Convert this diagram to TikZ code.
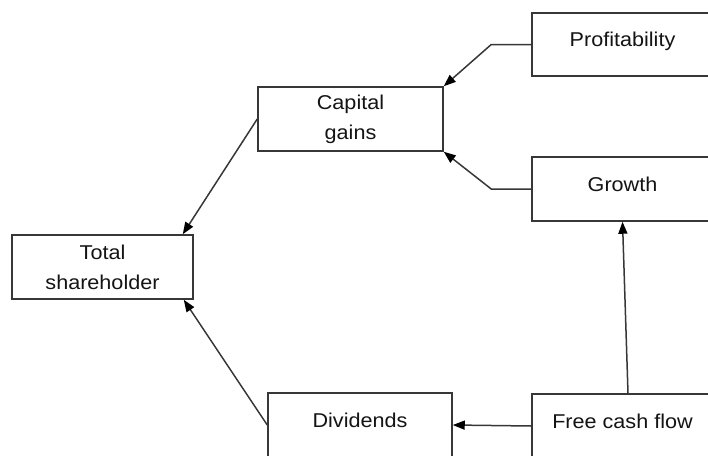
\documentclass[tikz,border=0pt]{standalone}
\usepackage{fontspec}
\setmainfont{Liberation Sans}[FakeStretch=1.08]
\usetikzlibrary{arrows.meta}
\definecolor{edge}{RGB}{55,55,55}
\definecolor{txt}{RGB}{20,20,20}
\begin{document}
\begin{tikzpicture}[x=1pt,y=-1pt,
  box/.style={draw=edge, line width=1.5pt, fill=white, minimum width=181pt, minimum height=64pt,
    inner sep=0pt, text=txt, font=\fontsize{20}{30}\selectfont, align=center},
  one/.style={text height=12pt, text depth=8pt},
  arr/.style={draw=edge, line width=1.5pt, -{Triangle[length=12pt,width=9pt,color=black]}}]
\useasboundingbox (0,0) rectangle (708,455);
\node[box, minimum width=185pt] (cap) at (350.5,119) {Capital\\gains};
\node[box, one, minimum height=63pt] (prof) at (622.5,44.5) {Profitability};
\node[box, one] (gro) at (622.5,189) {Growth};
\node[box] (tot) at (102.5,267) {Total\\shareholder};
\node[box, one, minimum width=184pt] (div) at (360,425) {Dividends};
\node[box, one] (fcf) at (622.5,426) {Free cash flow};
\draw[arr] (prof.west) -- ++(-40,0) -- (cap.north east);
\draw[arr] (gro.west) -- ++(-40,0) -- (cap.south east);
\draw[arr] (cap.west) -- ([xshift=-11pt]tot.north east);
\draw[arr] (div.west) -- ([xshift=-10pt]tot.south east);
\draw[arr] (fcf.west) -- (div.east);
\draw[arr] ([xshift=5.5pt]fcf.north) -- (gro.south);
\end{tikzpicture}
\end{document}
